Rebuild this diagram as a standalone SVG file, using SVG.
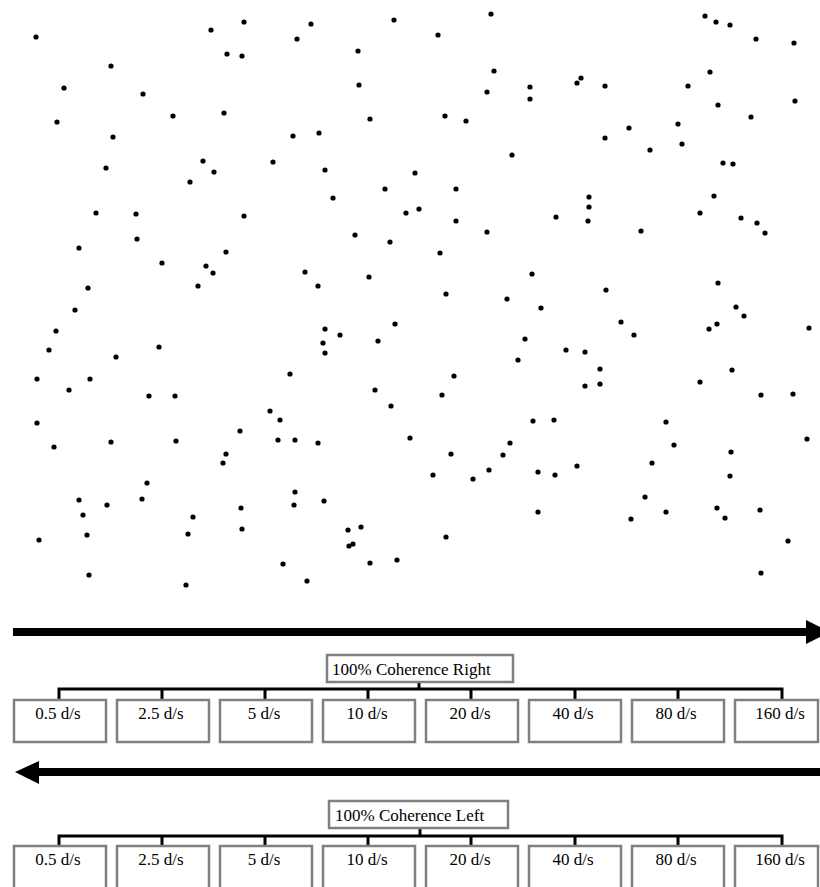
<svg xmlns="http://www.w3.org/2000/svg" width="820" height="887" viewBox="0 0 820 887">
<style>
.bg{fill:#ffffff}
.dot{fill:#000000}
.box{fill:#ffffff;stroke:#808080;stroke-width:2.5}
.lbl{font-family:"Liberation Serif","Times New Roman",serif;font-size:17px;fill:#000000}
.mid{text-anchor:middle}
.conn{stroke:#000000;stroke-width:3;fill:none}
.bar{stroke:#000000;stroke-width:8}
</style>
<defs>
<circle id="d" r="2.6" class="dot"/>
</defs>
<rect class="bg" x="0" y="0" width="820" height="887"/>
<g id="dots">
<use href="#d" x="36" y="37"/><use href="#d" x="211" y="30"/><use href="#d" x="244" y="22"/><use href="#d" x="227" y="54"/><use href="#d" x="242" y="56"/><use href="#d" x="111" y="66"/><use href="#d" x="64" y="88"/><use href="#d" x="143" y="94"/><use href="#d" x="173" y="116"/><use href="#d" x="224" y="113"/><use href="#d" x="57" y="122"/><use href="#d" x="113" y="137"/><use href="#d" x="106" y="168"/><use href="#d" x="203" y="161"/><use href="#d" x="214" y="172"/><use href="#d" x="190" y="182"/><use href="#d" x="273" y="162"/>
<use href="#d" x="311" y="24"/><use href="#d" x="297" y="39"/><use href="#d" x="394" y="20"/><use href="#d" x="438" y="35"/><use href="#d" x="491" y="14"/><use href="#d" x="358" y="51"/><use href="#d" x="359" y="85"/><use href="#d" x="494" y="71"/><use href="#d" x="487" y="92"/><use href="#d" x="530" y="87"/><use href="#d" x="530" y="99"/><use href="#d" x="370" y="119"/><use href="#d" x="445" y="116"/><use href="#d" x="466" y="121"/><use href="#d" x="293" y="136"/><use href="#d" x="319" y="133"/><use href="#d" x="325" y="170"/><use href="#d" x="415" y="173"/><use href="#d" x="512" y="155"/><use href="#d" x="385" y="189"/><use href="#d" x="456" y="189"/><use href="#d" x="333" y="198"/>
<use href="#d" x="705" y="16"/><use href="#d" x="716" y="22"/><use href="#d" x="730" y="25"/><use href="#d" x="756" y="39"/><use href="#d" x="794" y="43"/><use href="#d" x="581" y="78"/><use href="#d" x="577" y="83"/><use href="#d" x="605" y="86"/><use href="#d" x="688" y="86"/><use href="#d" x="710" y="72"/><use href="#d" x="718" y="105"/><use href="#d" x="795" y="101"/><use href="#d" x="751" y="117"/><use href="#d" x="678" y="124"/><use href="#d" x="629" y="128"/><use href="#d" x="605" y="138"/><use href="#d" x="650" y="150"/><use href="#d" x="682" y="144"/><use href="#d" x="723" y="163"/><use href="#d" x="733" y="164"/><use href="#d" x="589" y="197"/><use href="#d" x="714" y="196"/>
<use href="#d" x="96" y="213"/><use href="#d" x="136" y="214"/><use href="#d" x="244" y="216"/><use href="#d" x="137" y="239"/><use href="#d" x="79" y="248"/><use href="#d" x="162" y="263"/><use href="#d" x="226" y="252"/><use href="#d" x="206" y="266"/><use href="#d" x="213" y="273"/><use href="#d" x="88" y="288"/><use href="#d" x="198" y="286"/><use href="#d" x="75" y="310"/><use href="#d" x="56" y="331"/><use href="#d" x="49" y="350"/><use href="#d" x="159" y="347"/><use href="#d" x="116" y="357"/><use href="#d" x="37" y="379"/><use href="#d" x="90" y="379"/><use href="#d" x="69" y="390"/><use href="#d" x="149" y="396"/><use href="#d" x="175" y="396"/>
<use href="#d" x="406" y="213"/><use href="#d" x="419" y="209"/><use href="#d" x="456" y="221"/><use href="#d" x="487" y="232"/><use href="#d" x="355" y="235"/><use href="#d" x="390" y="242"/><use href="#d" x="440" y="253"/><use href="#d" x="305" y="272"/><use href="#d" x="318" y="286"/><use href="#d" x="369" y="277"/><use href="#d" x="532" y="274"/><use href="#d" x="446" y="294"/><use href="#d" x="507" y="299"/><use href="#d" x="541" y="308"/><use href="#d" x="395" y="324"/><use href="#d" x="325" y="329"/><use href="#d" x="340" y="335"/><use href="#d" x="323" y="343"/><use href="#d" x="325" y="353"/><use href="#d" x="378" y="341"/><use href="#d" x="525" y="339"/><use href="#d" x="518" y="360"/><use href="#d" x="290" y="374"/><use href="#d" x="454" y="376"/><use href="#d" x="375" y="390"/><use href="#d" x="442" y="395"/>
<use href="#d" x="589" y="207"/><use href="#d" x="556" y="217"/><use href="#d" x="588" y="221"/><use href="#d" x="641" y="231"/><use href="#d" x="700" y="213"/><use href="#d" x="741" y="218"/><use href="#d" x="757" y="223"/><use href="#d" x="765" y="233"/><use href="#d" x="718" y="283"/><use href="#d" x="606" y="290"/><use href="#d" x="736" y="307"/><use href="#d" x="744" y="316"/><use href="#d" x="717" y="324"/><use href="#d" x="709" y="329"/><use href="#d" x="809" y="328"/><use href="#d" x="621" y="322"/><use href="#d" x="634" y="335"/><use href="#d" x="566" y="350"/><use href="#d" x="585" y="352"/><use href="#d" x="600" y="369"/><use href="#d" x="732" y="370"/><use href="#d" x="585" y="386"/><use href="#d" x="600" y="384"/><use href="#d" x="700" y="382"/><use href="#d" x="761" y="395"/><use href="#d" x="793" y="394"/>
<use href="#d" x="270" y="411"/><use href="#d" x="37" y="423"/><use href="#d" x="54" y="447"/><use href="#d" x="111" y="442"/><use href="#d" x="176" y="441"/><use href="#d" x="240" y="431"/><use href="#d" x="226" y="454"/><use href="#d" x="223" y="463"/><use href="#d" x="147" y="483"/><use href="#d" x="142" y="499"/><use href="#d" x="79" y="500"/><use href="#d" x="107" y="505"/><use href="#d" x="83" y="515"/><use href="#d" x="87" y="535"/><use href="#d" x="193" y="517"/><use href="#d" x="188" y="534"/><use href="#d" x="241" y="508"/><use href="#d" x="242" y="529"/><use href="#d" x="39" y="540"/><use href="#d" x="89" y="575"/><use href="#d" x="186" y="585"/>
<use href="#d" x="280" y="420"/><use href="#d" x="278" y="440"/><use href="#d" x="295" y="440"/><use href="#d" x="318" y="443"/><use href="#d" x="391" y="406"/><use href="#d" x="410" y="438"/><use href="#d" x="451" y="454"/><use href="#d" x="433" y="475"/><use href="#d" x="473" y="479"/><use href="#d" x="489" y="470"/><use href="#d" x="503" y="455"/><use href="#d" x="510" y="443"/><use href="#d" x="533" y="421"/><use href="#d" x="538" y="472"/><use href="#d" x="538" y="512"/><use href="#d" x="295" y="492"/><use href="#d" x="294" y="505"/><use href="#d" x="324" y="501"/><use href="#d" x="348" y="530"/><use href="#d" x="361" y="527"/><use href="#d" x="349" y="546"/><use href="#d" x="353" y="544"/><use href="#d" x="446" y="537"/><use href="#d" x="283" y="564"/><use href="#d" x="370" y="563"/><use href="#d" x="397" y="560"/><use href="#d" x="307" y="581"/>
<use href="#d" x="554" y="420"/><use href="#d" x="666" y="422"/><use href="#d" x="807" y="439"/><use href="#d" x="674" y="445"/><use href="#d" x="731" y="452"/><use href="#d" x="577" y="466"/><use href="#d" x="555" y="475"/><use href="#d" x="652" y="463"/><use href="#d" x="730" y="476"/><use href="#d" x="645" y="497"/><use href="#d" x="631" y="519"/><use href="#d" x="666" y="512"/><use href="#d" x="717" y="508"/><use href="#d" x="725" y="518"/><use href="#d" x="760" y="510"/><use href="#d" x="788" y="541"/><use href="#d" x="761" y="573"/>
</g>
<g id="arrow-right">
<line class="bar" x1="13" y1="632" x2="808" y2="632"/>
<polygon points="806,620 830,632 806,644" fill="#000000"/>
</g>
<g id="arrow-left">
<line class="bar" x1="37" y1="772" x2="820" y2="772"/>
<polygon points="39,761 15,772 39,784" fill="#000000"/>
</g>
<g id="connectors">
<path class="conn" d="M419,682 V689 M59,700 V689 H782 V700 M162,689 V700 M265,689 V700 M368,689 V700 M471,689 V700 M575,689 V700 M678,689 V700"/>
<path class="conn" d="M420,828 V836 M59,846 V836 H782 V846 M162,836 V846 M265,836 V846 M368,836 V846 M471,836 V846 M575,836 V846 M678,836 V846"/>
</g>
<g id="coherence-right"><rect class="box" x="327" y="655" width="186" height="27"/><text class="lbl" x="332" y="675">100% Coherence Right</text></g>
<g id="r-0_5"><rect class="box" x="14" y="700" width="92" height="42"/><text class="lbl mid" x="58" y="719">0.5 d/s</text></g>
<g id="r-2_5"><rect class="box" x="117" y="700" width="92" height="42"/><text class="lbl mid" x="161" y="719">2.5 d/s</text></g>
<g id="r-5"><rect class="box" x="220" y="700" width="92" height="42"/><text class="lbl mid" x="264" y="719">5 d/s</text></g>
<g id="r-10"><rect class="box" x="323" y="700" width="92" height="42"/><text class="lbl mid" x="367" y="719">10 d/s</text></g>
<g id="r-20"><rect class="box" x="426" y="700" width="92" height="42"/><text class="lbl mid" x="470" y="719">20 d/s</text></g>
<g id="r-40"><rect class="box" x="529" y="700" width="92" height="42"/><text class="lbl mid" x="573" y="719">40 d/s</text></g>
<g id="r-80"><rect class="box" x="632" y="700" width="92" height="42"/><text class="lbl mid" x="676" y="719">80 d/s</text></g>
<g id="r-160"><rect class="box" x="735" y="700" width="83" height="42"/><text class="lbl mid" x="780" y="719">160 d/s</text></g>
<g id="coherence-left"><rect class="box" x="329" y="801" width="179" height="27"/><text class="lbl" x="335" y="821">100% Coherence Left</text></g>
<g id="l-0_5"><rect class="box" x="14" y="846" width="92" height="45"/><text class="lbl mid" x="58" y="865">0.5 d/s</text></g>
<g id="l-2_5"><rect class="box" x="117" y="846" width="92" height="45"/><text class="lbl mid" x="161" y="865">2.5 d/s</text></g>
<g id="l-5"><rect class="box" x="220" y="846" width="92" height="45"/><text class="lbl mid" x="264" y="865">5 d/s</text></g>
<g id="l-10"><rect class="box" x="323" y="846" width="92" height="45"/><text class="lbl mid" x="367" y="865">10 d/s</text></g>
<g id="l-20"><rect class="box" x="426" y="846" width="92" height="45"/><text class="lbl mid" x="470" y="865">20 d/s</text></g>
<g id="l-40"><rect class="box" x="529" y="846" width="92" height="45"/><text class="lbl mid" x="573" y="865">40 d/s</text></g>
<g id="l-80"><rect class="box" x="632" y="846" width="92" height="45"/><text class="lbl mid" x="676" y="865">80 d/s</text></g>
<g id="l-160"><rect class="box" x="735" y="846" width="83" height="45"/><text class="lbl mid" x="780" y="865">160 d/s</text></g>
</svg>
